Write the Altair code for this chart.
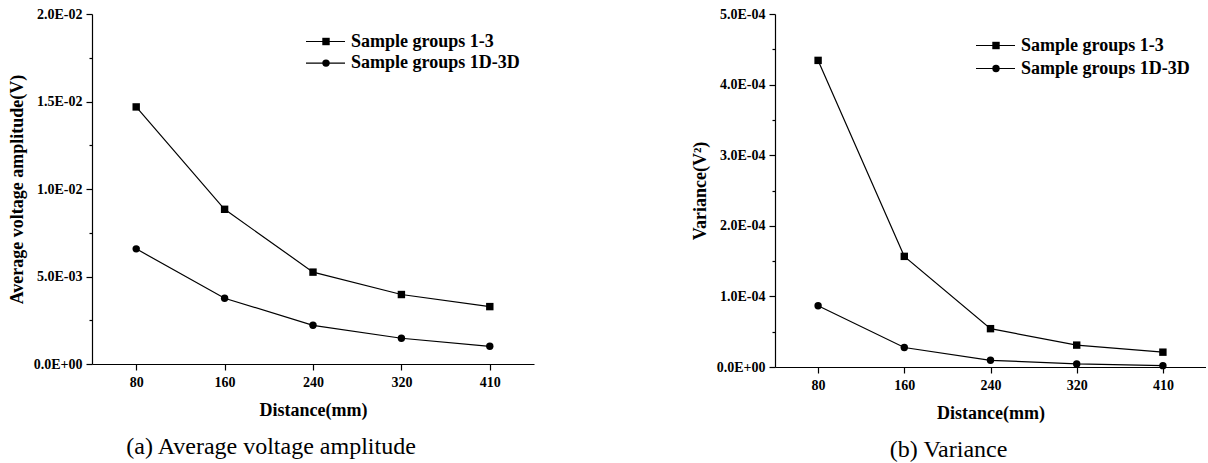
import altair as alt
import pandas as pd

# ---- data ----
distance_labels = ["80", "160", "240", "320", "410"]
series_names = ["Sample groups 1-3", "Sample groups 1D-3D"]
series_shapes = ["square", "circle"]

amp_groups_1_3 = [0.01469, 0.00884, 0.00525, 0.00397, 0.00328]
amp_groups_1d_3d = [0.00658, 0.00376, 0.00221, 0.00147, 0.00101]

var_groups_1_3 = [4.343e-4, 1.567e-4, 0.543e-4, 0.310e-4, 0.210e-4]
var_groups_1d_3d = [0.867e-4, 0.276e-4, 0.095e-4, 0.043e-4, 0.019e-4]

amp_ticks = [0, 0.0025, 0.005, 0.0075, 0.01, 0.0125, 0.015, 0.0175, 0.02]
var_ticks = [0, 0.5e-4, 1e-4, 1.5e-4, 2e-4, 2.5e-4, 3e-4, 3.5e-4, 4e-4, 4.5e-4, 5e-4]

FONT = "Liberation Serif"
MARK_SIZE = 55


def make_df(a, b):
    rows = []
    for name, vals in zip(series_names, [a, b]):
        for d, v in zip(distance_labels, vals):
            rows.append({"Distance": d, "Series": name, "Value": v})
    return pd.DataFrame(rows)


def sci_expr(mult, mod):
    e = "floor(log(datum.value)/LN10 + 1e-9)"
    sci = ("datum.value == 0 ? '0.0E+00' : format(datum.value / pow(10, " + e + "), '.1f') + 'E-' + "
           "pad('' + abs(" + e + "), 2, '0', 'left')")
    major = f"round(datum.value*{mult}) % {mod} == 0"
    return major, f"({major}) ? ({sci}) : ''"


def legend_layers(x0, y0, row_gap):
    """Line-and-marker legend entries placed inside the plot area (pixel layout)."""
    out = []
    for i, (name, shp) in enumerate(zip(series_names, series_shapes)):
        y = y0 + i * row_gap
        ldf = pd.DataFrame({"label": [name]})
        c = alt.Chart(ldf)
        out.append(c.mark_rule(color="black", strokeWidth=1.2).encode(
            x=alt.value(x0), x2=alt.value(x0 + 39), y=alt.value(y)))
        out.append(c.mark_point(filled=True, opacity=1, color="black", size=MARK_SIZE,
                                shape=shp).encode(x=alt.value(x0 + 20), y=alt.value(y)))
        out.append(c.mark_text(align="left", baseline="middle", font=FONT, fontSize=18,
                               fontWeight="bold", color="black").encode(
            text="label:N", x=alt.value(x0 + 45), y=alt.value(y)))
    return out


def panel(df, ytitle, caption, ticks, mult, mod, ydomain, w, h, lx, ly, lgap):
    major, lab = sci_expr(mult, mod)
    base = alt.Chart(df).encode(
        x=alt.X("Distance:N", sort=distance_labels,
                scale=alt.Scale(type="point", padding=0.5),
                axis=alt.Axis(title="Distance(mm)", labelAngle=0, tickSize=6,
                              labelPadding=5, titlePadding=12)),
        y=alt.Y("Value:Q", scale=alt.Scale(domain=ydomain, nice=False, zero=True),
                axis=alt.Axis(title=ytitle, values=ticks, labelExpr=lab, labelOverlap=False,
                              tickSize={"condition": {"test": major, "value": 6}, "value": 3},
                              labelPadding=4, titlePadding=7)),
    )
    lines = base.mark_line(color="black", strokeWidth=1.2).encode(detail="Series:N")
    pts = []
    for name, shp in zip(series_names, series_shapes):
        pts.append(base.mark_point(filled=True, opacity=1, color="black", size=MARK_SIZE,
                                   shape=shp).transform_filter(alt.datum.Series == name))
    return alt.layer(lines, *pts, *legend_layers(lx, ly, lgap)).properties(
        width=w, height=h,
        title=alt.TitleParams(text=caption, orient="bottom", anchor="middle", frame="bounds",
                              font=FONT, fontSize=24, fontWeight="normal", color="black",
                              offset=16),
    )


left = panel(make_df(amp_groups_1_3, amp_groups_1d_3d), "Average voltage amplitude(V)",
             "(a) Average voltage amplitude", amp_ticks, 1000000, 5000, [0, 0.02],
             442, 350, 214, 27.5, 21.6)
right = panel(make_df(var_groups_1_3, var_groups_1d_3d), "Variance(V²)",
              "(b) Variance", var_ticks, 10000000, 1000, [0, 5e-4],
              431, 353, 201, 31.5, 23)

chart = alt.hconcat(left, right, spacing=157).properties(
    padding={"left": 8, "top": 7, "right": 0, "bottom": 0},
    background="white",
).configure_view(stroke=None).configure_axis(
    labelFont=FONT, labelFontSize=14, labelFontWeight="bold", labelColor="black",
    titleFont=FONT, titleFontSize=18, titleFontWeight="bold", titleColor="black",
    domainColor="black", domainWidth=1.2, tickColor="black", tickWidth=1.2, grid=False,
)

chart.save("out.html", embed_options={"renderer": "svg", "actions": False})
